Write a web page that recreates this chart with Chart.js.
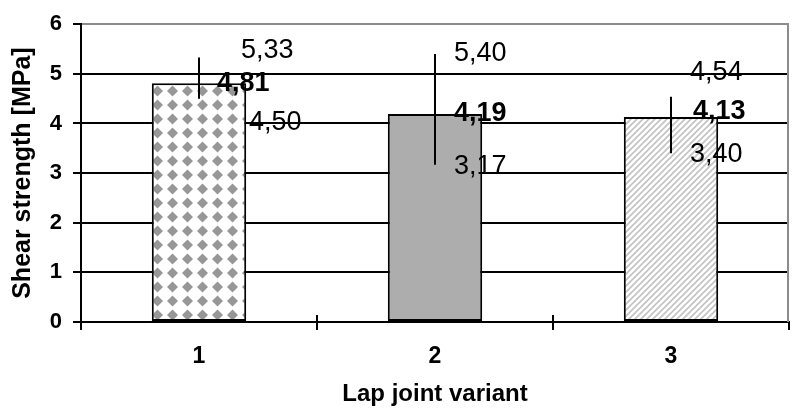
<!DOCTYPE html>
<html lang="en">
<head>
    <meta charset="UTF-8">
    <title>Shear strength by lap joint variant</title>
    <script src="https://cdn.jsdelivr.net/npm/chart.js"></script>
    <style>
        html, body { margin: 0; padding: 0; background: #fff; }
        #chart { display: block; }
    </style>
</head>
<body>
    <canvas id="chart" width="792" height="416"></canvas>

    <script>
        // Data
        const variants = ['1', '2', '3'];
        const meanStrength = [4.81, 4.19, 4.13];
        const maxStrength = [5.33, 5.40, 4.54];
        const minStrength = [4.50, 3.17, 3.40];
        const yMin = 0;
        const yMax = 6;
        const yStep = 1;

        // Label nudges in px (max / mean / min) so the text sits like the original
        const labelNudge = [
            [[42, -7], [18, 0], [50, 24]],
            [[19, 0], [19, 0], [19, 2]],
            [[19, -24], [22, -5], [19, 1]]
        ];

        Chart.defaults.font.family = "'Liberation Sans', Arial, sans-serif";
        Chart.defaults.color = '#000';

        // Fill patterns
        function diamondPattern() {
            const c = document.createElement('canvas');
            c.width = 15; c.height = 14;
            const g = c.getContext('2d');
            g.fillStyle = '#fff';
            g.fillRect(0, 0, 15, 14);
            g.fillStyle = '#979797';
            g.beginPath();
            g.moveTo(7.5, 1.5); g.lineTo(13, 7); g.lineTo(7.5, 12.5); g.lineTo(2, 7);
            g.closePath();
            g.fill();
            return g.createPattern(c, 'repeat');
        }

        function hatchPattern() {
            const c = document.createElement('canvas');
            c.width = 6; c.height = 6;
            const g = c.getContext('2d');
            g.fillStyle = '#fff';
            g.fillRect(0, 0, 6, 6);
            g.strokeStyle = '#c2c2c2';
            g.lineWidth = 1.6;
            g.beginPath();
            g.moveTo(0, 6); g.lineTo(6, 0);
            g.moveTo(-1, 1); g.lineTo(1, -1);
            g.moveTo(5, 7); g.lineTo(7, 5);
            g.stroke();
            return g.createPattern(c, 'repeat');
        }

        const fmt = v => v.toFixed(2).replace('.', ',');

        // Error bars plus the min / mean / max labels
        const errorBars = {
            id: 'errorBars',
            afterDatasetsDraw(chart) {
                const { ctx, scales: { y } } = chart;
                const meta = chart.getDatasetMeta(0);
                ctx.save();
                meta.data.forEach((bar, i) => {
                    const top = y.getPixelForValue(maxStrength[i]);
                    const bottom = y.getPixelForValue(minStrength[i]);
                    ctx.strokeStyle = '#000';
                    ctx.lineWidth = 2;
                    ctx.beginPath();
                    ctx.moveTo(bar.x, top);
                    ctx.lineTo(bar.x, bottom);
                    ctx.stroke();

                    ctx.fillStyle = '#000';
                    ctx.textAlign = 'left';
                    ctx.textBaseline = 'middle';
                    const vals = [maxStrength[i], meanStrength[i], minStrength[i]];
                    vals.forEach((v, k) => {
                        const [dx, dy] = labelNudge[i][k];
                        ctx.font = (k === 1 ? 'bold ' : '') + "27px 'Liberation Sans', Arial, sans-serif";
                        ctx.fillText(fmt(v), bar.x + dx, y.getPixelForValue(v) + dy);
                    });
                });
                ctx.restore();
            }
        };

        // Grey right border of the plot area, and x ticks that cross the axis line
        const frame = {
            id: 'frame',
            beforeDatasetsDraw(chart) {
                const { ctx, chartArea, scales: { x } } = chart;
                ctx.save();
                ctx.strokeStyle = '#8c8c8c';
                ctx.lineWidth = 2;
                ctx.beginPath();
                ctx.moveTo(chartArea.right - 1, chartArea.top);
                ctx.lineTo(chartArea.right - 1, chartArea.bottom);
                ctx.stroke();
                ctx.strokeStyle = '#000';
                ctx.beginPath();
                for (let i = 1; i < variants.length; i++) {
                    const px = (x.getPixelForTick(i - 1) + x.getPixelForTick(i)) / 2;
                    ctx.moveTo(px, chartArea.bottom - 7);
                    ctx.lineTo(px, chartArea.bottom);
                }
                ctx.stroke();
                ctx.restore();
            }
        };

        const ctx = document.getElementById('chart').getContext('2d');
        const chart = new Chart(ctx, {
            type: 'bar',
            data: {
                labels: variants,
                datasets: [{
                    data: meanStrength,
                    backgroundColor: [diamondPattern(), '#adadad', hatchPattern()],
                    borderColor: '#000',
                    borderWidth: 2,
                    borderSkipped: false,
                    categoryPercentage: 1,
                    barPercentage: 0.4
                }]
            },
            options: {
                responsive: false,
                animation: false,
                layout: { padding: { top: 18, right: 3, left: 0, bottom: 0 } },
                plugins: {
                    legend: { display: false },
                    tooltip: { enabled: false }
                },
                scales: {
                    x: {
                        afterFit: s => { s.height = 94; },
                        grid: {
                            offset: true,
                            drawOnChartArea: false,
                            color: '#000',
                            lineWidth: 2,
                            tickLength: 8
                        },
                        border: { color: '#000', width: 2 },
                        ticks: { font: { size: 23, weight: 'bold' }, padding: 13, color: '#000' },
                        title: {
                            display: true,
                            text: 'Lap joint variant',
                            font: { size: 24, weight: 'bold' },
                            padding: { top: 0, bottom: 7 },
                            color: '#000'
                        }
                    },
                    y: {
                        min: yMin,
                        max: yMax,
                        afterFit: s => { s.width = 81; },
                        grid: {
                            color: c => (c.tick && c.tick.value === yMax) ? '#8c8c8c' : '#000',
                            tickColor: '#000',
                            lineWidth: 2,
                            tickLength: 8
                        },
                        border: { color: '#000', width: 2 },
                        ticks: { stepSize: yStep, font: { size: 22, weight: 'bold' }, padding: 11, color: '#000' },
                        title: {
                            display: true,
                            text: 'Shear strength [MPa]',
                            font: { size: 25, weight: 'bold' },
                            padding: { top: 8, bottom: 0 },
                            color: '#000'
                        }
                    }
                }
            },
            plugins: [frame, errorBars]
        });
    </script>
</body>
</html>
